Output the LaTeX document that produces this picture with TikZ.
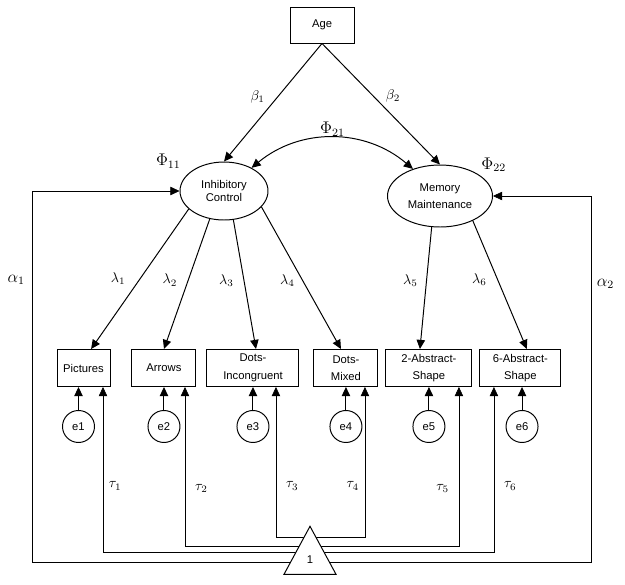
\documentclass[tikz,border=0pt]{standalone}
\usepackage{fontspec}
\newfontfamily\labelfont{Liberation Sans}
\usepackage{tikz}
\usetikzlibrary{shapes.geometric,arrows.meta,positioning,backgrounds}

\begin{document}
\begin{tikzpicture}[
  >={Triangle[length=6.5pt,width=6pt]},
  line width=0.7pt,
  every node/.style={font=\labelfont\fontsize{8}{12.5}\selectfont},
  box/.style={draw, rectangle, minimum height=0.925cm, inner sep=1pt, align=center},
  latent/.style={draw, ellipse, inner sep=0pt, align=center},
  err/.style={draw, circle, minimum size=0.8cm, inner sep=0pt},
  coef/.style={font=\normalsize, inner sep=1pt},
  arrow/.style={->}
]
\useasboundingbox (0,0) rectangle (15.625,-14.6);

% AGE
\node (age) [box, minimum width=1.6cm, minimum height=0.9cm] at (8.05,-0.625) {Age};

% LATENT FACTORS
\node (ic) [latent, minimum width=2.2cm, minimum height=1.45cm,
            font=\labelfont\fontsize{8}{9.5}\selectfont] at (5.6,-4.775) {Inhibitory\\Control};
\node (mm) [latent, minimum width=2.625cm, minimum height=1.55cm] at (11.0,-4.9) {Memory\\Maintenance};

\node (phi11) [coef, font=\large, above left=0cm and 0.25cm of ic.north west]  {$\Phi_{11}$};
\node (phi22) [coef, font=\large, above right=0cm and 0.05cm of mm.north east] {$\Phi_{22}$};

% OBSERVED TASKS
\node (pic)  [box, minimum width=1.325cm] at (2.0875,-9.2) {Pictures};
\node (arr)  [box, minimum width=1.6cm,   right=0.525cm of pic]  {Arrows};
\node (dinc) [box, minimum width=2.3cm,   right=0.25cm of arr]   {Dots-\\Incongruent};
\node (dmix) [box, minimum width=1.6cm,   right=0.35cm of dinc]  {Dots-\\Mixed};
\node (abs2) [box, minimum width=2.15cm,  right=0.175cm of dmix] {2-Abstract-\\Shape};
\node (abs6) [box, minimum width=2.025cm, right=0.175cm of abs2] {6-Abstract-\\Shape};

% ERRORS
\node (e1) [err, below=0.575cm of pic, xshift=-0.125cm] {e1};
\node (e2) [err, below=0.575cm of arr]  {e2};
\node (e3) [err, below=0.575cm of dinc] {e3};
\node (e4) [err, below=0.575cm of dmix] {e4};
\node (e5) [err, below=0.575cm of abs2] {e5};
\node (e6) [err, below=0.575cm of abs6, xshift=0.04cm] {e6};

% CONSTANT
\coordinate (hub) at (7.75,-13.75);
\node (one) [draw, fill=white, isosceles triangle, isosceles triangle stretches,
             shape border rotate=90, minimum width=1.3cm, minimum height=1.2cm,
             inner sep=0pt, anchor=apex] at (7.75,-13.125) {1};
\coordinate (fl) at (0.8,-4.775);
\coordinate (fr) at (14.775,-4.9);

\draw[arrow] (age.south) -- node[coef, pos=0.45, left=8pt]{$\beta_1$}  (ic.north);
\draw[arrow] (age.south) -- node[coef, pos=0.43, right=8pt]{$\beta_2$} (mm.north);
\draw[<->] (ic.40) to[bend left=40] node[coef, font=\large, above]{$\Phi_{21}$} (mm.135);

\draw[arrow] (ic.207) -- node[coef, pos=0.5, left=9pt]{$\lambda_1$}   ([xshift=0.19cm]pic.north);
\draw[arrow] (ic.243) -- node[coef, pos=0.47, left=6.5pt]{$\lambda_2$} (arr.north);
\draw[arrow] (ic.288) -- node[coef, pos=0.47, left=6pt]{$\lambda_3$}   ([xshift=0.075cm]dinc.north);
\draw[arrow] (ic.337) -- node[coef, pos=0.52, left=4.5pt]{$\lambda_4$} ([xshift=-0.125cm]dmix.north);
\draw[arrow] (mm.255) -- node[coef, pos=0.44, left=5pt]{$\lambda_5$}   ([xshift=-0.225cm]abs2.north);
\draw[arrow] (mm.323) -- node[coef, pos=0.46, left=6.5pt]{$\lambda_6$} ([xshift=0.16cm]abs6.north);

\draw[arrow] (e1) -- (e1 |- pic.south);
\draw[arrow] (e2) -- (e2 |- arr.south);
\draw[arrow] (e3) -- (e3 |- dinc.south);
\draw[arrow] (e4) -- (e4 |- dmix.south);
\draw[arrow] (e5) -- (e5 |- abs2.south);
\draw[arrow] (e6) -- (e6 |- abs6.south);

\begin{scope}[on background layer]
\draw[arrow] ([yshift=-0.05cm]hub) -| node[coef, pos=0.7, right=3pt]{$\tau_1$}  ([xshift=0.4875cm]pic.south);
\draw[arrow] ([yshift=0.1cm]hub)   -| node[coef, pos=0.68, right=6pt]{$\tau_2$} ([xshift=0.525cm]arr.south);
\draw[arrow] ([yshift=0.325cm]hub) -| node[coef, pos=0.67, right=6pt]{$\tau_3$} ([xshift=0.575cm]dinc.south);
\draw[arrow] ([yshift=0.325cm]hub) -| node[coef, pos=0.67, left=3pt]{$\tau_4$}  ([xshift=0.475cm]dmix.south);
\draw[arrow] ([yshift=0.1cm]hub)   -| node[coef, pos=0.68, left=6pt]{$\tau_5$}  ([xshift=0.75cm]abs2.south);
\draw[arrow] ([yshift=-0.05cm]hub) -| node[coef, pos=0.7, right=6pt]{$\tau_6$}  ([xshift=-0.6625cm]abs6.south);

\draw[arrow] ([yshift=-0.3cm]hub) -| node[coef, font=\large, pos=0.88, left=4pt]{$\alpha_1$}  (fl) -- (ic);
\draw[arrow] ([yshift=-0.3cm]hub) -| node[coef, font=\large, pos=0.88, right=3pt]{$\alpha_2$} (fr) -- (mm);
\end{scope}
\end{tikzpicture}
\end{document}
